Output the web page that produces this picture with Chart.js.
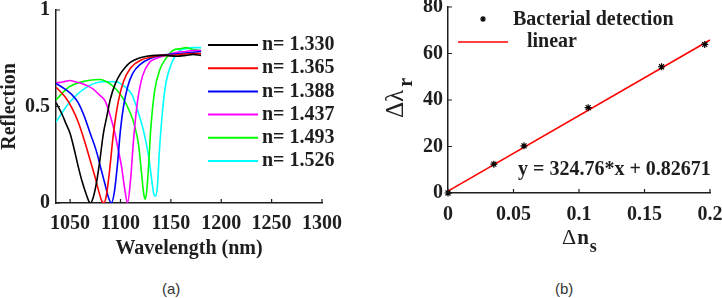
<!DOCTYPE html>
<html>
<head>
<meta charset="utf-8">
<script src="https://cdn.jsdelivr.net/npm/chart.js@4.4.1/dist/chart.umd.min.js"></script>
<style>
  body { margin: 0; background: #fff; width: 722px; height: 298px; position: relative; overflow: hidden; }
  canvas { position: absolute; top: 0; }
  #chartA { left: 0; }
  #chartB { left: 361px; }
  .cap { position: absolute; top: 280px; font: 15px "Liberation Sans", Arial, sans-serif; line-height: 17px; color: #333; }
</style>
</head>
<body>
<canvas id="chartA" width="361" height="270"></canvas>
<canvas id="chartB" width="361" height="270"></canvas>
<div class="cap" style="left:162px">(a)</div>
<div class="cap" style="left:555px">(b)</div>
<script>
// panel (a): reflection spectra
const wlN1330 = [1036, 1042, 1046, 1050, 1054, 1058, 1062, 1066, 1068.5, 1070.2, 1073, 1076, 1079.5, 1083, 1086.5, 1090, 1095, 1100, 1105, 1110, 1118, 1126, 1135, 1145, 1155, 1165, 1172, 1180];
const rN1330  = [0.52, 0.46, 0.41, 0.36, 0.28, 0.19, 0.11, 0.045, 0.01, 0.0, 0.03, 0.1, 0.22, 0.36, 0.45, 0.54, 0.62, 0.67, 0.705, 0.73, 0.75, 0.76, 0.765, 0.765, 0.76, 0.765, 0.77, 0.765];

const wlN1365 = [1036, 1045, 1052, 1058, 1065, 1070, 1075, 1079, 1081.5, 1083.5, 1086, 1089, 1093, 1098, 1103, 1110, 1120, 1130, 1140, 1150, 1160, 1170, 1180];
const rN1365  = [0.60, 0.55, 0.49, 0.42, 0.31, 0.22, 0.13, 0.05, 0.01, 0.0, 0.04, 0.16, 0.36, 0.53, 0.63, 0.70, 0.74, 0.755, 0.765, 0.765, 0.77, 0.775, 0.775];

const wlN1388 = [1036, 1045, 1052, 1058, 1064, 1070, 1076, 1081, 1085, 1088, 1091, 1094, 1097, 1100, 1103, 1107, 1112, 1120, 1130, 1140, 1150, 1160, 1170, 1180];
const rN1388  = [0.62, 0.59, 0.56, 0.52, 0.45, 0.36, 0.27, 0.17, 0.09, 0.03, 0.0, 0.06, 0.2, 0.38, 0.5, 0.6, 0.67, 0.72, 0.75, 0.765, 0.77, 0.775, 0.78, 0.785];

const wlN1437 = [1036, 1040, 1045, 1050, 1055, 1060, 1066, 1073, 1079, 1084.6, 1090, 1094.5, 1098, 1101, 1104, 1107, 1110, 1113, 1117, 1122, 1129, 1136, 1145, 1155, 1165, 1172, 1180];
const rN1437  = [0.623, 0.625, 0.63, 0.635, 0.628, 0.622, 0.61, 0.59, 0.56, 0.53, 0.45, 0.36, 0.27, 0.19, 0.08, 0.0, 0.12, 0.33, 0.53, 0.66, 0.73, 0.75, 0.765, 0.78, 0.785, 0.79, 0.79];

const wlN1493 = [1036, 1048.7, 1065, 1078.5, 1091.7, 1101.6, 1109.8, 1114, 1118, 1121, 1123, 1124.4, 1126, 1128, 1130, 1134, 1139, 1144, 1152, 1160, 1165, 1172, 1180];
const rN1493  = [0.534, 0.60, 0.632, 0.64, 0.61, 0.55, 0.466, 0.40, 0.30, 0.15, 0.05, 0.02, 0.06, 0.2, 0.38, 0.585, 0.69, 0.74, 0.79, 0.80, 0.805, 0.795, 0.79];

const wlN1526 = [1036, 1048.7, 1065, 1081.7, 1095, 1104.9, 1111.5, 1117, 1122.7, 1128, 1131, 1133, 1134.5, 1136.5, 1139, 1144, 1150.8, 1159, 1165, 1172, 1180];
const rN1526  = [0.42, 0.517, 0.595, 0.628, 0.628, 0.60, 0.56, 0.48, 0.378, 0.24, 0.12, 0.05, 0.035, 0.08, 0.3, 0.585, 0.725, 0.79, 0.80, 0.805, 0.805];

const seriesLabels = ['n= 1.330', 'n= 1.365', 'n= 1.388', 'n= 1.437', 'n= 1.493', 'n= 1.526'];
const seriesColors = ['#000000', '#ff0000', '#0000ff', '#ff00ff', '#00ff00', '#00ffff'];
const wavelengthTicks = [1050, 1100, 1150, 1200, 1250, 1300];
const reflectionTicks = [0, 0.5, 1];

// panel (b): resonance shift vs index change
const deltaN = [0, 0.035, 0.058, 0.107, 0.163, 0.196];
const deltaLambda = [0, 12.4, 20.3, 36.7, 54.3, 63.9];
const fitX = [0, 0.2];
const fitY = [0.83, 65.78];
const deltaNTicks = [0, 0.05, 0.1, 0.15, 0.2];
const deltaLambdaTicks = [0, 20, 40, 60, 80];
const fitText = 'y = 324.76*x + 0.82671';

const serif = '"Liberation Serif", "Times New Roman", serif';
const ink = '#1e1e1e';
const boldFont = { family: serif, size: 20, weight: 'bold' };

const pairs = (xs, ys) => xs.map((x, i) => ({ x: x, y: ys[i] }));

// ticks pointing into the plot, like the original
const innerTicks = {
  id: 'innerTicks',
  afterDraw(chart) {
    const { ctx, chartArea: a, scales } = chart;
    ctx.save();
    ctx.strokeStyle = ink;
    ctx.lineWidth = 1.2;
    ctx.beginPath();
    scales.x.ticks.forEach(t => {
      const p = scales.x.getPixelForValue(t.value);
      ctx.moveTo(p, a.bottom);
      ctx.lineTo(p, a.bottom - 4);
    });
    scales.y.ticks.forEach(t => {
      const p = scales.y.getPixelForValue(t.value);
      ctx.moveTo(a.left, p);
      ctx.lineTo(a.left + 4, p);
    });
    ctx.stroke();
    ctx.restore();
  }
};

function axis(ticksList, min, max, fitSize, horizontal, pad, title) {
  return {
    type: 'linear',
    min: min,
    max: max,
    afterBuildTicks: s => { s.ticks = ticksList.map(v => ({ value: v })); },
    afterFit: s => {
      if (horizontal) s.height = fitSize; else s.width = fitSize;
      s.paddingLeft = s.paddingRight = s.paddingTop = s.paddingBottom = 0;
    },
    grid: { display: false, drawTicks: false },
    border: { display: true, color: ink, width: 1.5 },
    ticks: { font: boldFont, color: ink, padding: pad, maxRotation: 0, autoSkip: false, callback: v => String(v) },
    title: title || { display: false }
  };
}

const legendA = {
  id: 'legendA',
  afterDraw(chart) {
    const ctx = chart.ctx;
    ctx.save();
    ctx.font = 'bold 20px ' + serif;
    ctx.textBaseline = 'middle';
    chart.data.datasets.forEach((ds, i) => {
      const yy = 45 + i * 23.2;
      ctx.strokeStyle = ds.borderColor;
      ctx.lineWidth = 2;
      ctx.beginPath();
      ctx.moveTo(208, yy);
      ctx.lineTo(258, yy);
      ctx.stroke();
      ctx.fillStyle = ink;
      ctx.fillText(ds.label, 262, yy);
    });
    ctx.restore();
  }
};

const specX = [wlN1330, wlN1365, wlN1388, wlN1437, wlN1493, wlN1526];
const specY = [rN1330, rN1365, rN1388, rN1437, rN1493, rN1526];

new Chart(document.getElementById('chartA'), {
  type: 'line',
  data: {
    datasets: seriesLabels.map((lab, i) => ({
      label: lab,
      data: pairs(specX[i], specY[i]),
      borderColor: seriesColors[i],
      borderWidth: 1.6,
      pointRadius: 0,
      cubicInterpolationMode: 'monotone',
      fill: false
    }))
  },
  options: {
    responsive: false,
    animation: false,
    devicePixelRatio: 1,
    events: [],
    layout: { padding: { left: 0, top: 10, right: 39, bottom: 0 } },
    plugins: { legend: { display: false }, tooltip: { enabled: false } },
    scales: {
      x: axis(wavelengthTicks, 1036, 1300, 67, true, 9, {
        display: true, text: 'Wavelength (nm)', font: boldFont, color: ink, padding: { top: 0, bottom: 9 }
      }),
      y: axis(reflectionTicks, 0, 1, 56, false, 6, {
        display: true, text: 'Reflection', font: { family: serif, size: 20, weight: 'bold', lineHeight: 1 }, color: ink, padding: 0
      })
    }
  },
  plugins: [innerTicks, legendA]
});

const extrasB = {
  id: 'extrasB',
  afterDraw(chart) {
    const ctx = chart.ctx;
    ctx.save();
    ctx.fillStyle = ink;
    ctx.textBaseline = 'middle';
    ctx.font = 'bold 20px ' + serif;
    // legend
    const st = chart.data.datasets[0];
    ctx.strokeStyle = st.borderColor;
    ctx.lineWidth = 1.2;
    ctx.beginPath();
    for (let k = 0; k < 4; k++) {
      const ang = k * Math.PI / 4;
      ctx.moveTo(122 - 3 * Math.cos(ang), 19 - 3 * Math.sin(ang));
      ctx.lineTo(122 + 3 * Math.cos(ang), 19 + 3 * Math.sin(ang));
    }
    ctx.stroke();
    ctx.fillText(st.label, 152, 20);
    const ln = chart.data.datasets[1];
    ctx.strokeStyle = ln.borderColor;
    ctx.lineWidth = 1.6;
    ctx.beginPath();
    ctx.moveTo(97, 42);
    ctx.lineTo(147, 42);
    ctx.stroke();
    ctx.fillText(ln.label, 166, 42);
    // fit equation
    ctx.fillText(fitText, 157, 170);
    // x title: delta n_s
    ctx.textBaseline = 'alphabetic';
    ctx.font = '22px ' + serif;
    ctx.fillText('\u0394', 201, 244);
    let w = ctx.measureText('\u0394').width;
    ctx.font = 'bold 21px ' + serif;
    ctx.fillText('n', 202 + w, 244);
    w += ctx.measureText('n').width;
    ctx.font = 'bold 18px ' + serif;
    ctx.fillText('s', 203 + w, 252);
    // y title: delta lambda_r
    ctx.translate(42, 118);
    ctx.rotate(-Math.PI / 2);
    ctx.font = '25px ' + serif;
    ctx.fillText('\u0394\u03bb', 0, 0);
    w = ctx.measureText('\u0394\u03bb').width;
    ctx.font = 'bold 20px ' + serif;
    ctx.fillText('r', w + 3, 9);
    ctx.restore();
  }
};

new Chart(document.getElementById('chartB'), {
  type: 'scatter',
  data: {
    datasets: [
      {
        label: 'Bacterial detection',
        data: pairs(deltaN, deltaLambda),
        pointStyle: 'star',
        pointRadius: 3.5,
        borderColor: '#000000',
        backgroundColor: '#000000',
        pointBorderWidth: 1.2,
        showLine: false,
        clip: 6
      },
      {
        label: 'linear',
        data: pairs(fitX, fitY),
        borderColor: '#ff0000',
        borderWidth: 1.6,
        pointRadius: 0,
        showLine: true
      }
    ]
  },
  options: {
    responsive: false,
    animation: false,
    devicePixelRatio: 1,
    events: [],
    layout: { padding: { left: 0, top: 7, right: 12, bottom: 0 } },
    plugins: { legend: { display: false }, tooltip: { enabled: false } },
    scales: {
      x: axis(deltaNTicks, 0, 0.2, 77, true, 10),
      y: axis(deltaLambdaTicks, 0, 80, 87, false, 5)
    }
  },
  plugins: [innerTicks, extrasB]
});
</script>
</body>
</html>
